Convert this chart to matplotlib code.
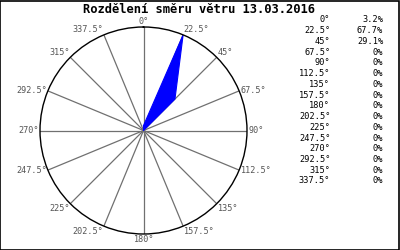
import numpy as np
import matplotlib
matplotlib.use("Agg")
import matplotlib.pyplot as plt
from matplotlib.patches import Rectangle

title = "Rozdělení směru větru 13.03.2016"
directions = [0, 22.5, 45, 67.5, 90, 112.5, 135, 157.5, 180, 202.5, 225, 247.5, 270, 292.5, 315, 337.5]
dir_labels = ["0°", "22.5°", "45°", "67.5°", "90°", "112.5°", "135°", "157.5°", "180°",
              "202.5°", "225°", "247.5°", "270°", "292.5°", "315°", "337.5°"]
percent = [3.2, 67.7, 29.1, 0, 0, 0, 0, 0, 0, 0, 0, 0, 0, 0, 0, 0]
pct_labels = ["3.2%", "67.7%", "29.1%", "0%", "0%", "0%", "0%", "0%", "0%", "0%",
              "0%", "0%", "0%", "0%", "0%", "0%"]

plt.rcParams['font.family'] = ['DejaVu Sans Mono']

fig = plt.figure(figsize=(4, 2.5), dpi=100)
fig.patch.set_facecolor('white')
fig.patches.append(Rectangle((0.001, 0.002), 0.997, 0.996, transform=fig.transFigure,
                             fill=False, edgecolor='black', linewidth=1.2))

ax = fig.add_axes([0.1, 0.064, 0.5175, 0.828], projection='polar')
ax.set_theta_zero_location('N')
ax.set_theta_direction(-1)
rmax = max(percent)
ax.set_ylim(0, rmax)
ax.grid(False)
ax.set_xticks([])
ax.set_yticks([])
ax.spines['polar'].set_color('black')
ax.spines['polar'].set_linewidth(1.0)

theta = np.deg2rad(directions)
for t in theta:
    ax.plot([t, t], [0, rmax], color='#707070', lw=0.9, zorder=1)

th_closed = np.append(theta, theta[0])
r_closed = np.append(percent, percent[0])
ax.fill(th_closed, r_closed, color='#0000ff', zorder=2, lw=0)
ax.plot(th_closed, r_closed, color='#0000ff', lw=0.8, zorder=2)

for d, t, lab in zip(directions, theta, dir_labels):
    s, c = np.sin(t), np.cos(t)
    ha = 'left' if s > 0.01 else ('right' if s < -0.01 else 'center')
    if abs(c) < 0.5:
        va = 'center'
    elif c > 0:
        va = 'bottom'
    else:
        va = 'top'
    ax.text(t, rmax * 1.01, lab, ha=ha, va=va, fontsize=6.1, color='#555555', clip_on=False)

fig.text(0.497, 0.963, title, ha='center', va='center', fontsize=8.7, fontweight='bold')

for i, (lab, p) in enumerate(zip(dir_labels, pct_labels)):
    y = 1 - (20 + i * 10.73) / 250
    fig.text(0.826, y, lab, ha='right', va='center', fontsize=6.2, color='black')
    fig.text(0.958, y, p, ha='right', va='center', fontsize=6.2, color='black')

fig.savefig("out.png", dpi=100, facecolor='white')
